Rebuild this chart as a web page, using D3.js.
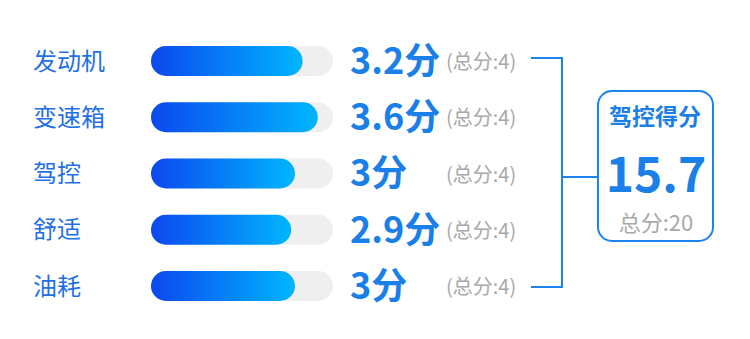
<!DOCTYPE html>
<html>
<head>
<meta charset="utf-8">
<script src="https://cdn.jsdelivr.net/npm/d3@7"></script>
<style>
  body { margin: 0; background: #fff; }
  svg { display: block; font-family: "Noto Sans CJK SC", "Noto Sans", sans-serif; }
</style>
</head>
<body>
<div id="chart"></div>
<script>
// data
var categories = ["发动机", "变速箱", "驾控", "舒适", "油耗"];
var scores = [3.2, 3.6, 3, 2.9, 3];
var maxScore = 4;
var totalTitle = "驾控得分";
var totalScore = 15.7;
var totalMax = 20;

var width = 750, height = 339;

var svg = d3.select("#chart")
  .append("svg")
    .attr("width", width)
    .attr("height", height);

var defs = svg.append("defs");
var grad = defs.append("linearGradient")
    .attr("id", "barGrad")
    .attr("x1", "0%").attr("x2", "100%")
    .attr("y1", "0%").attr("y2", "0%");
grad.append("stop").attr("offset", "0%").attr("stop-color", "#0b48ef");
grad.append("stop").attr("offset", "100%").attr("stop-color", "#00b6fd");

// rows
var y = d3.scalePoint()
  .domain(categories)
  .range([61, 286]);

var barX = 151, trackW = 182, barH = 30;
var x = d3.scaleLinear()
  .domain([0, maxScore])
  .range([barH, trackW]);

var rows = svg.selectAll("g.row")
  .data(categories.map(function(c, i) { return {name: c, value: scores[i]}; }))
  .enter()
  .append("g")
    .attr("class", "row")
    .attr("transform", function(d) { return "translate(0," + y(d.name) + ")"; });

rows.append("text")
    .attr("x", 33)
    .attr("y", 0)
    .attr("dy", "0.36em")
    .style("font-size", "24px")
    .style("fill", "#1f6fe6")
    .text(function(d) { return d.name; });

rows.append("rect")
    .attr("x", barX)
    .attr("y", -barH / 2)
    .attr("width", trackW)
    .attr("height", barH)
    .attr("rx", barH / 2)
    .style("fill", "#efefef");

rows.append("rect")
    .attr("x", barX)
    .attr("y", -barH / 2)
    .attr("width", function(d) { return x(d.value); })
    .attr("height", barH)
    .attr("rx", barH / 2)
    .style("fill", "url(#barGrad)");

rows.append("text")
    .attr("x", 350)
    .attr("y", 0)
    .attr("dy", "0.36em")
    .style("font-size", "36px")
    .style("font-weight", "bold")
    .style("fill", "#1a80e8")
    .text(function(d) { return d.value + "分"; });

rows.append("text")
    .attr("x", 446)
    .attr("y", 1)
    .attr("dy", "0.36em")
    .style("font-size", "20px")
    .style("fill", "#a9a9a9")
    .text("(总分:" + maxScore + ")");

// bracket
var yTop = y(categories[0]) - 3, yBot = y(categories[categories.length - 1]) + 1;
var bracket = d3.path();
bracket.moveTo(531, yTop);
bracket.lineTo(562, yTop);
bracket.lineTo(562, yBot);
bracket.lineTo(531, yBot);
bracket.moveTo(562, 177);
bracket.lineTo(598, 177);
svg.append("path")
    .attr("d", bracket.toString())
    .style("fill", "none")
    .style("stroke", "#1a84ec")
    .style("stroke-width", 2);

// total box
svg.append("rect")
    .attr("x", 598)
    .attr("y", 91)
    .attr("width", 115)
    .attr("height", 150)
    .attr("rx", 14)
    .style("fill", "#fff")
    .style("stroke", "#1a84ec")
    .style("stroke-width", 2);

svg.append("text")
    .attr("x", 655)
    .attr("y", 125)
    .attr("text-anchor", "middle")
    .style("font-size", "23px")
    .style("font-weight", "bold")
    .style("fill", "#1a80e8")
    .text(totalTitle);

svg.append("text")
    .attr("x", 656)
    .attr("y", 192)
    .attr("text-anchor", "middle")
    .style("font-size", "48px")
    .style("font-weight", "bold")
    .style("fill", "#1a80e8")
    .text(totalScore);

svg.append("text")
    .attr("x", 656)
    .attr("y", 231)
    .attr("text-anchor", "middle")
    .style("font-size", "22px")
    .style("fill", "#a9a9a9")
    .text("总分:" + totalMax);
</script>
</body>
</html>
